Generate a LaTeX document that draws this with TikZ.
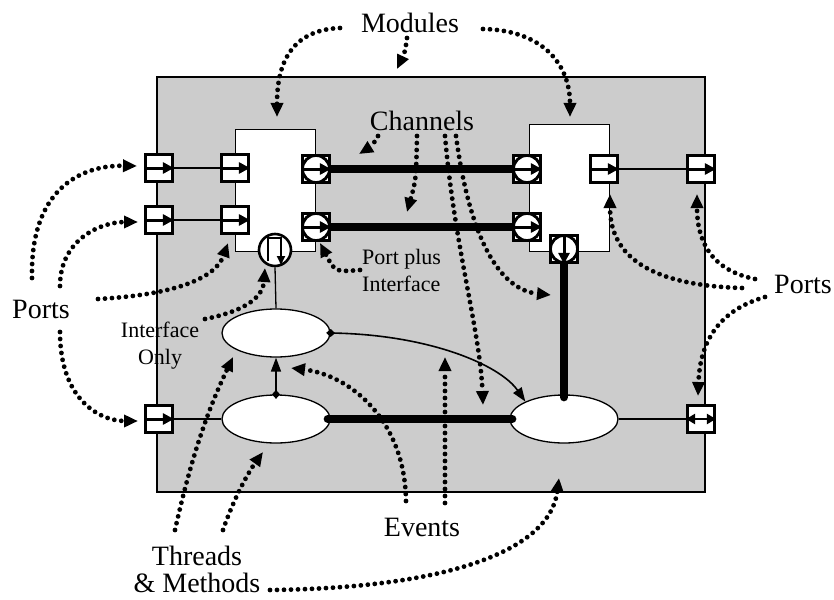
\documentclass[tikz,border=0pt]{standalone}
\usepackage{fontspec}
\setmainfont{Liberation Serif}
\usetikzlibrary{arrows.meta,shapes.geometric}
\begin{document}
\begin{tikzpicture}[x=1pt,y=-1pt,
  big/.style={font=\fontsize{28}{27}\selectfont, inner sep=0pt},
  small/.style={font=\fontsize{22}{27}\selectfont, inner sep=0pt},
  portbox/.style={draw, line width=2.8pt, fill=white, minimum size=27pt, inner sep=0pt},
  circport/.style={circle, draw, line width=2.8pt, fill=white, minimum size=27pt, inner sep=0pt},
  portarrow/.style={line width=3pt, -{Triangle[length=11pt,width=11pt]}},
  wire/.style={line width=1.3pt},
  chan/.style={line width=8pt, line cap=round},
  proc/.style={ellipse, draw, line width=1.3pt, fill=white, minimum width=108pt, minimum height=48pt, inner sep=0pt},
  modbox/.style={draw, line width=1pt, fill=white},
  dots/.style={line width=4.8pt, line cap=round, dash pattern=on 0pt off 7pt, -{Triangle[length=14pt,width=12pt]}},
  evt/.style={line width=1.6pt, {Diamond[length=9pt,width=8pt]}-{Triangle[length=14pt,width=10pt]}, shorten <=-4.5pt},
]
\useasboundingbox (0,0) rectangle (834,599);
% background
\path[fill=gray!40, draw=black, line width=1.3pt] (157,77) rectangle (705,492);
% modules
\node[modbox, minimum width=80pt, minimum height=122pt, inner sep=0pt] (modL) at (275,190) {};
\node[modbox, minimum width=80pt, minimum height=127pt, inner sep=0pt] (modR) at (569,187.5) {};
% ellipses
\node[proc] (E1) at (276,333) {};
\node[proc] (E2) at (276,419) {};
\node[proc] (E3) at (564,419) {};
% plain ports
\node[portbox] (P1) at (159,168) {};
\node[portbox] (P2) at (159,220) {};
\node[portbox] (P3) at (235,168) {};
\node[portbox] (P4) at (235,220) {};
\node[portbox] (P5) at (604,169) {};
\node[portbox] (P6) at (701,169) {};
\node[portbox] (P7) at (159,419) {};
\node[portbox] (P8) at (701,419) {};
% port plus interface
\foreach \n/\x/\y in {Q1/316/169, Q2/316/227, Q3/527/169, Q4/527/227, Q5/564/249}{
  \node[portbox] (\n) at (\x,\y) {};
  \node[circport] (\n c) at (\x,\y) {};
}
% interface only
\node[circle, draw, line width=2.6pt, fill=white, minimum size=32pt, inner sep=0pt] (C1) at (275,250) {};
% wires
\draw[wire] (P1.east) -- (P3.west);
\draw[wire] (P2.east) -- (P4.west);
\draw[wire] (P5.east) -- (P6.west);
\draw[wire] (C1.south) -- (E1.north);
\draw[wire] (P7.east) -- (E2.west);
\draw[wire] (E3.east) -- (P8.west);
% channels
\draw[line width=8pt] (Q1.east) -- (Q3.west);
\draw[line width=8pt] (Q2.east) -- (Q4.west);
\draw[chan] (Q5.south) -- ([yshift=-3pt]E3.north);
\draw[chan] ([xshift=-3pt]E2.east) -- ([xshift=3pt]E3.west);
% port arrows
\foreach \n in {P1,P2,P3,P4,P5,P6,P7}{ \draw[portarrow] (\n.west) -- (\n.east); }
\draw[line width=2.8pt, {Triangle[length=9pt,width=10pt]}-{Triangle[length=9pt,width=10pt]}] (P8.west) -- (P8.east);
\foreach \n in {Q1,Q2,Q3,Q4}{ \draw[portarrow] (\n c.west) -- (\n c.east); }
\draw[portarrow] (Q5c.north) -- (Q5c.south);
% pulse symbol
\coordinate (pa) at (268,261);
\coordinate (pb) at (268,238);
\coordinate (pc) at (281,238);
\coordinate (pd) at (281,265);
\draw[line width=2pt, -{Triangle[length=9pt,width=8pt]}] (pa) -- (pb) -- (pc) -- (pd);
% events
\draw[evt] (E2.north) -- (E1.south);
\draw[evt] (E1.east) .. controls (430,335) and (500,365) .. (E3.north west);
% labels
\node[big, anchor=base] (modules) at (410,33) {Modules};
\node[big, anchor=base] (channels) at (422,130) {Channels};
\node[big, anchor=base] (portsL) at (41,318) {Ports};
\node[big, anchor=base] (portsR) at (803,293) {Ports};
\node[big, anchor=base] (events) at (422,536) {Events};
\node[big, anchor=north, align=center] (threads) at (197,546) {Threads\\\& Methods};
\node[small, anchor=north west, align=left] (ppi) at (362,249) {Port plus\\Interface};
\node[small, anchor=north, align=center] (io) at (160,322) {Interface\\Only};
% dotted annotation arrows
\coordinate (m1) at (340,28);  \coordinate (m1e) at (277,117);
\coordinate (m2) at (407,38);  \coordinate (m2e) at (397,69);
\coordinate (m3) at (483,29);  \coordinate (m3e) at (570,117);
\draw[dots] (m1) .. controls (290,30) and (277,65) .. (m1e);
\draw[dots] (m2) .. controls (405,52) .. (m2e);
\draw[dots] (m3) .. controls (540,30) and (570,62) .. (m3e);
\coordinate (c1) at (378,136); \coordinate (c1e) at (359,154);
\coordinate (c2) at (417,136); \coordinate (c2e) at (407,212);
\coordinate (c3) at (445,136); \coordinate (c3e) at (483,405);
\coordinate (c4) at (456,136); \coordinate (c4e) at (551,295);
\draw[dots] (c1) .. controls (372,146) .. (c1e);
\draw[dots] (c2) .. controls (416,180) .. (c2e);
\draw[dots] (c3) .. controls (455,250) and (480,330) .. (c3e);
\draw[dots] (c4) .. controls (470,240) and (500,290) .. (c4e);
\coordinate (pp) at (360,270); \coordinate (ppe) at (320,243);
\draw[dots] (pp) .. controls (335,272) .. (ppe);
\coordinate (ii) at (205,319); \coordinate (iie) at (265,268);
\draw[dots] (ii) .. controls (250,310) and (263,295) .. (iie);
\coordinate (l1) at (32,278); \coordinate (l1e) at (137,166);
\coordinate (l2) at (60,286); \coordinate (l2e) at (138,222);
\coordinate (l3) at (98,299); \coordinate (l3e) at (228,243);
\coordinate (l4) at (60,332); \coordinate (l4e) at (138,421);
\draw[dots] (l1) .. controls (30,190) and (80,165) .. (l1e);
\draw[dots] (l2) .. controls (60,240) and (100,222) .. (l2e);
\draw[dots] (l3) .. controls (170,295) and (215,280) .. (l3e);
\draw[dots] (l4) .. controls (60,400) and (100,421) .. (l4e);
\coordinate (r1) at (742,288); \coordinate (r1e) at (610,194);
\coordinate (r2) at (755,279); \coordinate (r2e) at (697,194);
\coordinate (r3) at (765,297); \coordinate (r3e) at (698,396);
\draw[dots] (r1) .. controls (640,285) and (610,250) .. (r1e);
\draw[dots] (r2) .. controls (710,270) and (697,240) .. (r2e);
\draw[dots] (r3) .. controls (720,310) and (700,340) .. (r3e);
\coordinate (t1) at (175,530); \coordinate (t1e) at (233,357);
\coordinate (t2) at (223,530); \coordinate (t2e) at (263,452);
\coordinate (t3) at (270,590); \coordinate (t3e) at (559,478);
\draw[dots] (t1) .. controls (195,440) and (215,395) .. (t1e);
\draw[dots] (t2) .. controls (235,495) and (250,470) .. (t2e);
\draw[dots] (t3) .. controls (450,588) and (550,550) .. (t3e);
\coordinate (e1) at (406,501); \coordinate (e1e) at (291,368);
\coordinate (e2) at (445,503); \coordinate (e2e) at (445,357);
\draw[dots] (e1) .. controls (405,420) and (350,375) .. (e1e);
\draw[dots] (e2) -- (e2e);
\end{tikzpicture}
\end{document}
